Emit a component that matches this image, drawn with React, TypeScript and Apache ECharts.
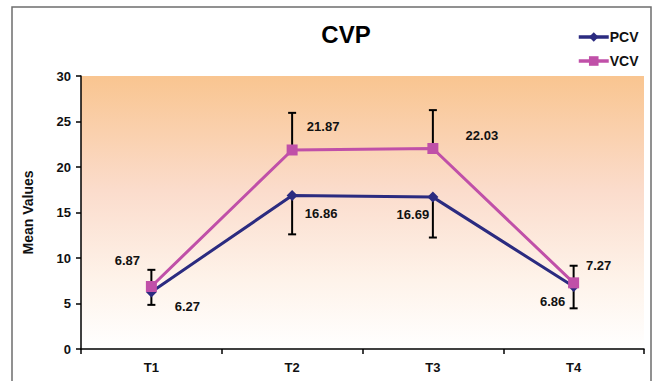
import React, { useEffect, useRef } from "react";
import * as echarts from "echarts";

const categories = ["T1", "T2", "T3", "T4"];
const pcvValues = [6.27, 16.86, 16.69, 6.86];
const vcvValues = [6.87, 21.87, 22.03, 7.27];
// error bar ends: VCV drawn upward, PCV drawn downward
const vcvErrorTop = [8.7, 25.95, 26.25, 9.15];
const pcvErrorBottom = [4.85, 12.6, 12.25, 4.47];
const yTicks = { min: 0, max: 30, interval: 5 };

const pcvLabelOffsets = [[36, 15], [29, 18], [-20, 17], [-21, 15]];
const vcvLabelOffsets = [[-24, -26], [31, -23], [49, -13], [25, -17]];

const FONT = "Liberation Sans, Arial, sans-serif";

export default function App() {
  const ref = useRef<HTMLDivElement>(null);
  useEffect(() => {
    if (!ref.current) return;
    const chart = echarts.init(ref.current, null, { renderer: "svg" });
    const labelStyle = {
      show: true,
      position: "inside",
      fontFamily: FONT,
      fontWeight: "bold",
      fontSize: 13,
      color: "#111",
    };
    const errData: any[] = [];
    categories.forEach((_, i) => {
      errData.push([i, vcvValues[i], vcvErrorTop[i]]);
      errData.push([i, pcvValues[i], pcvErrorBottom[i]]);
    });
    chart.setOption({
      animation: false,
      backgroundColor: "#fff",
      title: {
        text: "CVP",
        left: 341,
        top: 17,
        textAlign: "center",
        textStyle: { fontFamily: FONT, fontWeight: "bold", fontSize: 24, color: "#000" },
      },
      legend: {
        orient: "vertical",
        left: 572,
        top: 25,
        itemWidth: 30,
        itemHeight: 12,
        itemGap: 10,
        lineStyle: { width: 3.5 },
        textStyle: { fontFamily: FONT, fontWeight: "bold", fontSize: 14, color: "#111", padding: [0, 0, 0, -4] },
        data: [
          { name: "PCV", itemStyle: { color: "#2b2b80" } },
          { name: "VCV", itemStyle: { color: "#c050a8" } },
        ],
      },
      graphic: [
        {
          type: "rect",
          shape: { x: 12, y: 7, width: 639, height: 400 },
          style: { fill: "none", stroke: "#6e6e6e", lineWidth: 1.5 },
          silent: true,
          z: -10,
        },
      ],
      grid: {
        left: 81,
        right: 13,
        top: 76,
        bottom: 32,
        show: true,
        borderWidth: 0,
        backgroundColor: new echarts.graphic.LinearGradient(0, 0, 0, 1, [
          { offset: 0, color: "#f9c590" },
          { offset: 0.42, color: "#fbdccc" },
          { offset: 0.75, color: "#fef3ea" },
          { offset: 1, color: "#ffffff" },
        ]),
      },
      xAxis: {
        type: "category",
        data: categories,
        boundaryGap: true,
        axisLine: { lineStyle: { color: "#000", width: 1.5 } },
        axisTick: { show: true, alignWithLabel: false, length: 5, lineStyle: { color: "#000", width: 1.5 } },
        axisLabel: { fontFamily: FONT, fontWeight: "bold", fontSize: 13, color: "#111", margin: 12 },
      },
      yAxis: {
        type: "value",
        min: yTicks.min,
        max: yTicks.max,
        interval: yTicks.interval,
        name: "Mean Values",
        nameLocation: "middle",
        nameGap: 46,
        nameTextStyle: { fontFamily: FONT, fontWeight: "bold", fontSize: 14, color: "#111" },
        splitLine: { show: false },
        axisLine: { show: true, lineStyle: { color: "#000", width: 1.5 } },
        axisTick: { show: true, length: 5, lineStyle: { color: "#000", width: 1.5 } },
        axisLabel: { fontFamily: FONT, fontWeight: "bold", fontSize: 13, color: "#111", margin: 10 },
      },
      series: [
        {
          type: "custom",
          name: "err",
          z: 1,
          silent: true,
          data: errData,
          renderItem: (params: any, api: any) => {
            const x = api.value(0);
            const p0 = api.coord([x, api.value(1)]);
            const p1 = api.coord([x, api.value(2)]);
            const half = 4;
            const style = { stroke: "#000", lineWidth: 2 };
            return {
              type: "group",
              children: [
                { type: "line", shape: { x1: p0[0], y1: p0[1], x2: p1[0], y2: p1[1] }, style },
                { type: "line", shape: { x1: p1[0] - half, y1: p1[1], x2: p1[0] + half, y2: p1[1] }, style },
              ],
            };
          },
        },
        {
          type: "line",
          name: "PCV",
          z: 3,
          data: pcvValues.map((v, i) => ({
            value: v,
            label: { ...labelStyle, offset: pcvLabelOffsets[i] },
          })),
          symbol: "diamond",
          symbolSize: 11,
          lineStyle: { color: "#2b2b80", width: 3 },
          itemStyle: { color: "#2b2b80" },
          label: labelStyle,
        },
        {
          type: "line",
          name: "VCV",
          z: 4,
          data: vcvValues.map((v, i) => ({
            value: v,
            label: { ...labelStyle, offset: vcvLabelOffsets[i] },
          })),
          symbol: "rect",
          symbolSize: 11,
          lineStyle: { color: "#c050a8", width: 3 },
          itemStyle: { color: "#c050a8" },
          label: labelStyle,
        },
      ],
    });
    return () => chart.dispose();
  }, []);
  return (
    <div
      ref={ref}
      style={{ position: "fixed", left: 0, top: 0, width: 657, height: 381 }}
    />
  );
}
